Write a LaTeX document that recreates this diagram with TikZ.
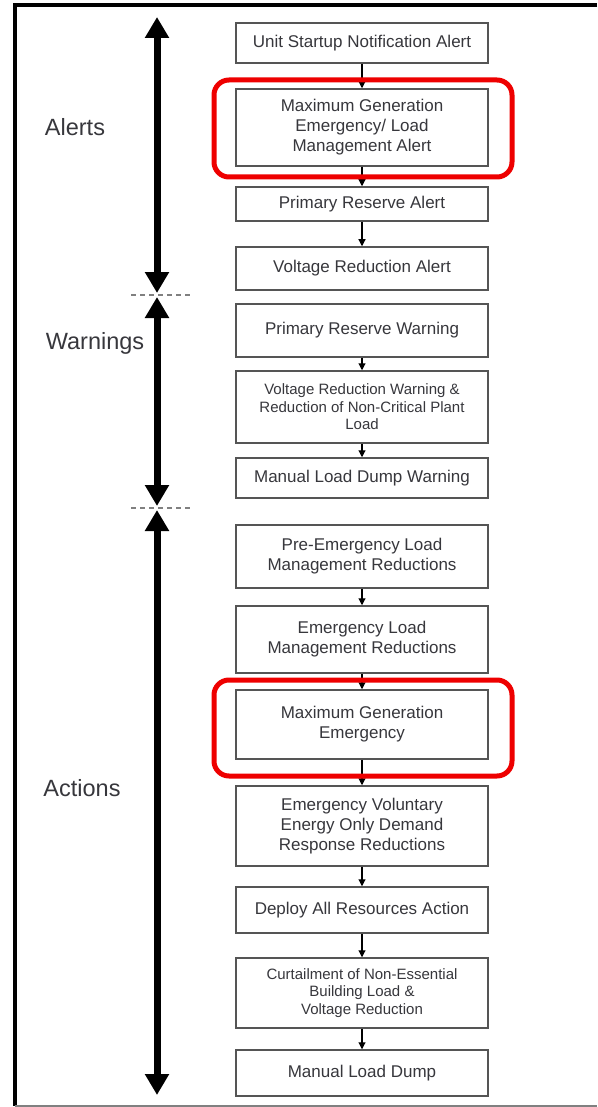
\documentclass[tikz,border=0pt]{standalone}
\usepackage{fontspec}
\setmainfont{Liberation Sans}
\usetikzlibrary{arrows.meta}
\definecolor{boxline}{RGB}{85,85,85}
\definecolor{boxtext}{RGB}{55,55,60}
\definecolor{hlred}{RGB}{238,0,0}

\begin{document}
\begin{tikzpicture}[x=1pt, y=-1pt,
    stage/.style={draw=boxline, line width=1.5pt, fill=white, text=boxtext,
      minimum width=252pt, inner sep=0pt, align=center,
      font=\fontsize{17}{20}\selectfont},
    small/.style={font=\fontsize{15}{17.5}\selectfont},
    flow/.style={line width=1.1pt, -{Triangle[width=7pt, length=7pt]}},
    phase/.style={line width=7pt, {Triangle[width=23pt, length=21pt]}-{Triangle[width=23pt, length=21pt]}},
    phaselabel/.style={text=boxtext, font=\fontsize{23.5}{26}\selectfont},
    sep/.style={gray, line width=1.2pt, dash pattern=on 5pt off 4pt},
    highlight/.style={draw=hlred, line width=5pt, rounded corners=15pt}]
      \useasboundingbox (0,0) rectangle (597,1107);

      % frame
      \draw [line width=4pt] (597,5) -- (15,5) -- (15,1106);
      \draw [gray, line width=1.2pt] (15,1106) -- (597,1106);

      % phases
      \coordinate (alertstop) at (157,17);
      \coordinate (alertsend) at (157,293);
      \coordinate (warnstop) at (157,297);
      \coordinate (warnsend) at (157,506);
      \coordinate (actionstop) at (157,510);
      \coordinate (actionsend) at (157,1095);
      \draw [sep] (131,295) -- (190,295);
      \draw [sep] (131,508) -- (190,508);
      \draw [phase] (alertstop) -- (alertsend);
      \draw [phase] (warnstop) -- (warnsend);
      \draw [phase] (actionstop) -- (actionsend);

      \node [phaselabel] (alerts) at (75,127) {Alerts};
      \node [phaselabel] (warnings) at (95,343) {Warnings};
      \node [phaselabel] (actions) at (82,788) {Actions};

      % alerts
      \node [stage, minimum height=40pt] (unitstart) at (362,43) {Unit Startup Notification Alert};
      \node [stage, minimum height=77pt] (mgalert) at (362,127.5) {Maximum Generation\\Emergency/ Load\\Management Alert};
      \node [stage, minimum height=34pt] (primalert) at (362,204) {Primary Reserve Alert};
      \node [stage, minimum height=43pt] (voltalert) at (362,268.5) {Voltage Reduction Alert};

      % warnings
      \node [stage, minimum height=53pt] (primwarn) at (362,330.5) {Primary Reserve Warning};
      \node [stage, small, minimum height=72pt] (voltwarn) at (362,407) {Voltage Reduction Warning \&\\Reduction of Non-Critical Plant\\Load};
      \node [stage, minimum height=40pt] (dumpwarn) at (362,478) {Manual Load Dump Warning};

      % actions
      \node [stage, minimum height=63pt] (preemerg) at (362,556.5) {Pre-Emergency Load\\Management Reductions};
      \node [stage, minimum height=67pt] (emergload) at (362,639.5) {Emergency Load\\Management Reductions};
      \node [stage, minimum height=69pt] (mgemerg) at (362,724.5) {Maximum Generation\\Emergency};
      \node [stage, minimum height=80pt] (voluntary) at (362,826) {Emergency Voluntary\\Energy Only Demand\\Response Reductions};
      \node [stage, minimum height=46pt] (deploy) at (362,910) {Deploy All Resources Action};
      \node [stage, small, minimum height=70pt] (curtail) at (362,993) {Curtailment of Non-Essential\\Building Load \&\\Voltage Reduction};
      \node [stage, minimum height=46pt] (dump) at (362,1073) {Manual Load Dump};

      \draw [flow] (unitstart) -- (mgalert);
      \draw [flow] (mgalert) -- (primalert);
      \draw [flow] (primalert) -- (voltalert);
      \draw [flow] (primwarn) -- (voltwarn);
      \draw [flow] (voltwarn) -- (dumpwarn);
      \draw [flow] (preemerg) -- (emergload);
      \draw [flow] (emergload) -- (mgemerg);
      \draw [flow] (mgemerg) -- (voluntary);
      \draw [flow] (voluntary) -- (deploy);
      \draw [flow] (deploy) -- (curtail);
      \draw [flow] (curtail) -- (dump);

      % highlights
      \draw [highlight] (214,80) rectangle (512,177);
      \draw [highlight] (214,680) rectangle (512,776);
    \end{tikzpicture}
\end{document}
